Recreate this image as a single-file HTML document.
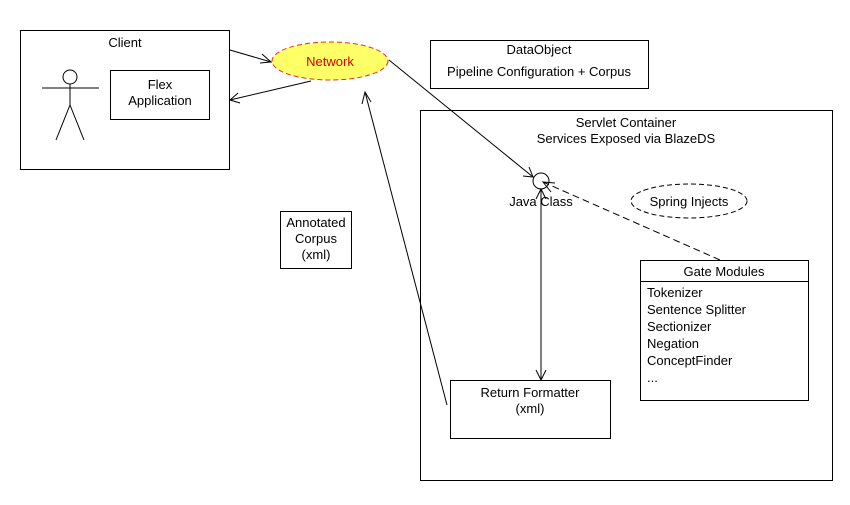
<!DOCTYPE html>
<html><head><style>body{margin:0;background:#fff}svg text{font-family:"Liberation Sans",Arial,sans-serif;font-size:13px}</style></head><body>
<svg width="850" height="500" xmlns="http://www.w3.org/2000/svg">
<rect width="850" height="500" fill="#fff"/>
<g fill="none" stroke="#000" stroke-width="1">
<rect x="20.5" y="30.5" width="209" height="139"/>
<circle cx="70" cy="77" r="7"/>
<line x1="42" y1="88" x2="99" y2="88"/>
<line x1="70" y1="84" x2="70" y2="105"/>
<line x1="70" y1="105" x2="56" y2="140"/>
<line x1="70" y1="105" x2="84" y2="140"/>
<rect x="110.5" y="70.5" width="99" height="49"/>
<rect x="430.5" y="40.5" width="218" height="48"/>
<rect x="420.5" y="110.5" width="412" height="370"/>
<circle cx="541" cy="181" r="8"/>
<rect x="640.5" y="260.5" width="168" height="140"/>
<line x1="640" y1="281.5" x2="808" y2="281.5"/>
<rect x="450.5" y="380.5" width="160" height="58"/>
<rect x="280.5" y="211.5" width="71" height="57"/>
<line x1="230" y1="50" x2="271" y2="62"/>
<polyline points="262,54 271,62 260,63"/>
<line x1="311" y1="81" x2="230" y2="100"/>
<polyline points="238,93 230,100 240,103"/>
<line x1="389" y1="60" x2="533" y2="177"/>
<polyline points="523,176 533,177 529,167"/>
<line x1="541" y1="189" x2="541" y2="380"/>
<polyline points="536,199 541,189 546,199"/>
<polyline points="536,370 541,380 546,370"/>
<line x1="447" y1="405" x2="365" y2="92"/>
<polyline points="362,104 365,92 371,102"/>
<line x1="720" y1="260" x2="543" y2="182" stroke-dasharray="7,4"/>
<polyline points="555,183 543,182 551,192"/>
<ellipse cx="689" cy="201" rx="58" ry="17" stroke-dasharray="5,3"/>
</g>
<ellipse cx="330" cy="61" rx="58" ry="19" fill="#ffff66" stroke="#e03030" stroke-dasharray="5,3"/>
<text x="330" y="66" text-anchor="middle" fill="#d00000">Network</text>
<text x="125" y="47" text-anchor="middle">Client</text>
<text x="160" y="89" text-anchor="middle">Flex</text>
<text x="160" y="105" text-anchor="middle">Application</text>
<text x="539" y="54" text-anchor="middle">DataObject</text>
<text x="539" y="76" text-anchor="middle">Pipeline Configuration + Corpus</text>
<text x="626" y="127" text-anchor="middle">Servlet Container</text>
<text x="626" y="143" text-anchor="middle">Services Exposed via BlazeDS</text>
<text x="541" y="206" text-anchor="middle">Java Class</text>
<text x="689" y="206" text-anchor="middle">Spring Injects</text>
<text x="724" y="276" text-anchor="middle">Gate Modules</text>
<text x="647" y="297">Tokenizer</text>
<text x="647" y="314">Sentence Splitter</text>
<text x="647" y="331">Sectionizer</text>
<text x="647" y="348">Negation</text>
<text x="647" y="365">ConceptFinder</text>
<text x="647" y="382">...</text>
<text x="530" y="397" text-anchor="middle">Return Formatter</text>
<text x="530" y="413" text-anchor="middle">(xml)</text>
<text x="316" y="227" text-anchor="middle">Annotated</text>
<text x="316" y="243" text-anchor="middle">Corpus</text>
<text x="316" y="259" text-anchor="middle">(xml)</text>
</svg>
</body></html>
